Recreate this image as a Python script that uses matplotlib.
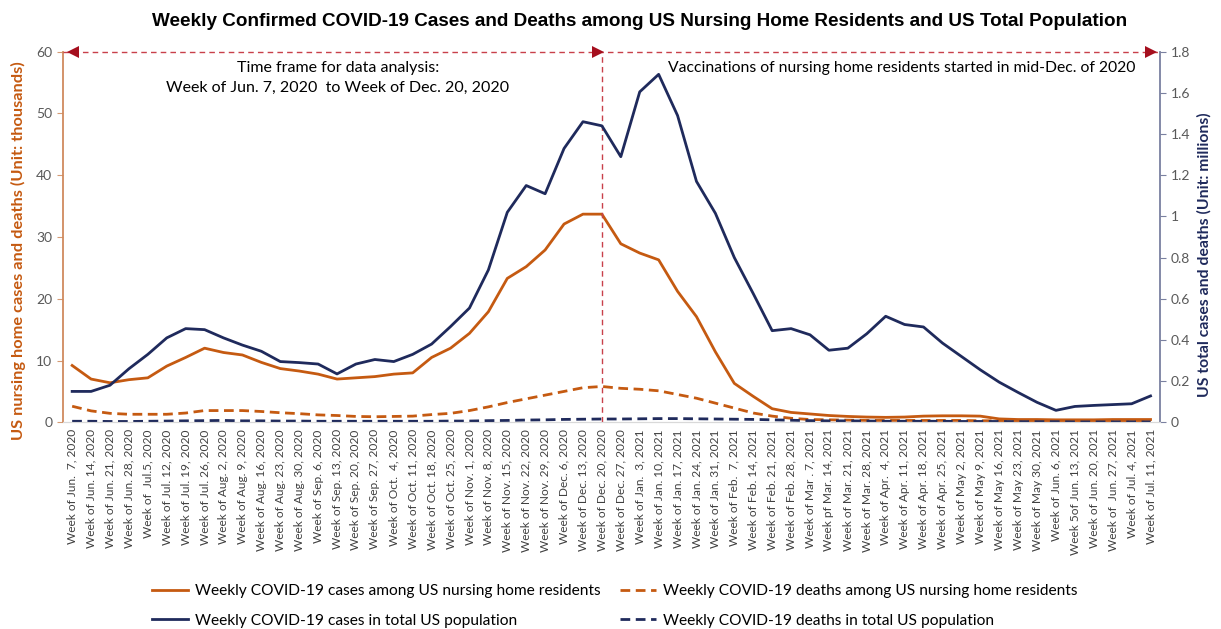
import matplotlib
matplotlib.use('Agg')
import matplotlib.pyplot as plt

weeks = [
    "Week of Jun.  7, 2020", "Week of Jun. 14, 2020", "Week of Jun. 21, 2020", "Week of Jun. 28, 2020",
    "Week of  Jul.5, 2020", "Week of Jul. 12, 2020", "Week of Jul. 19, 2020", "Week of Jul. 26, 2020",
    "Week of Aug. 2, 2020", "Week of Aug. 9, 2020", "Week of Aug. 16, 2020", "Week of Aug. 23, 2020",
    "Week of Aug. 30, 2020", "Week of Sep. 6, 2020", "Week of Sep. 13, 2020", "Week of Sep. 20, 2020",
    "Week of Sep. 27, 2020", "Week of Oct.  4, 2020", "Week of Oct. 11, 2020", "Week of Oct. 18, 2020",
    "Week of Oct. 25, 2020", "Week of Nov. 1, 2020", "Week of Nov. 8, 2020", "Week of Nov. 15, 2020",
    "Week of Nov. 22, 2020", "Week of Nov. 29, 2020", "Week of Dec. 6, 2020", "Week of Dec. 13, 2020",
    "Week of Dec. 20, 2020", "Week of Dec. 27, 2020", "Week of Jan.  3, 2021", "Week of Jan. 10, 2021",
    "Week of Jan. 17, 2021", "Week of Jan. 24, 2021", "Week of Jan. 31, 2021", "Week of Feb.  7, 2021",
    "Week of Feb. 14, 2021", "Week of Feb. 21, 2021", "Week of Feb. 28, 2021", "Week of Mar . 7, 2021",
    "Week pf Mar. 14, 2021", "Week of Mar. 21, 2021", "Week of Mar. 28, 2021", "Week of Apr.  4, 2021",
    "Week of Apr. 11, 2021", "Week of Apr. 18, 2021", "Week of Apr. 25, 2021", "Week of May 2, 2021",
    "Week of May 9, 2021", "Week of May 16, 2021", "Week of May 23, 2021", "Week of May 30, 2021",
    "Week of Jun. 6, 2021", "Week 5of Jun. 13, 2021", "Week of Jun. 20, 2021", "Week of  Jun. 27, 2021",
    "Week of Jul. 4, 2021", "Week of Jul. 11, 2021",
]

# Nursing home residents (thousands)
nh_cases = [9.2, 7.0, 6.4, 6.9, 7.2, 9.1, 10.5, 12.0, 11.3, 10.9, 9.7, 8.7, 8.3, 7.8, 7.0, 7.2,
            7.4, 7.8, 8.0, 10.5, 12.0, 14.4, 17.9, 23.3, 25.2, 27.9, 32.1, 33.7, 33.7, 28.9,
            27.4, 26.3, 21.2, 17.1, 11.4, 6.3, 4.2, 2.2, 1.6, 1.35, 1.1, 0.95, 0.85, 0.8, 0.85,
            1.0, 1.05, 1.05, 1.0, 0.55, 0.45, 0.45, 0.4, 0.4, 0.4, 0.45, 0.45, 0.45]
nh_deaths = [2.6, 1.85, 1.45, 1.3, 1.3, 1.3, 1.5, 1.9, 1.9, 1.9, 1.75, 1.55, 1.4, 1.2, 1.1, 0.95,
             0.9, 0.95, 1.0, 1.25, 1.45, 1.9, 2.5, 3.2, 3.8, 4.4, 5.0, 5.6, 5.8, 5.5,
             5.35, 5.1, 4.5, 3.9, 3.1, 2.3, 1.5, 1.0, 0.65, 0.45, 0.4, 0.35, 0.3, 0.3, 0.3,
             0.3, 0.3, 0.3, 0.25, 0.25, 0.2, 0.2, 0.2, 0.2, 0.2, 0.2, 0.2, 0.2]
# US total population (millions)
us_cases = [0.15, 0.15, 0.18, 0.26, 0.33, 0.41, 0.455, 0.45, 0.41, 0.375, 0.345, 0.295, 0.29, 0.283,
            0.235, 0.283, 0.305, 0.295, 0.33, 0.38, 0.465, 0.555, 0.74, 1.02, 1.15, 1.11, 1.33, 1.46,
            1.44, 1.29, 1.605, 1.69, 1.49, 1.17, 1.015, 0.8, 0.625, 0.445, 0.455, 0.425, 0.35, 0.36,
            0.43, 0.515, 0.475, 0.463, 0.385, 0.32, 0.255, 0.195, 0.145, 0.097, 0.058, 0.077, 0.082,
            0.086, 0.09, 0.128]
us_deaths = [0.005, 0.005, 0.004, 0.004, 0.005, 0.006, 0.007, 0.008, 0.009, 0.007, 0.007, 0.006, 0.006,
             0.005, 0.005, 0.005, 0.005, 0.005, 0.005, 0.005, 0.006, 0.006, 0.008, 0.009, 0.011, 0.012,
             0.014, 0.015, 0.016, 0.016, 0.017, 0.018, 0.018, 0.017, 0.016, 0.015, 0.014, 0.012, 0.010,
             0.008, 0.007, 0.007, 0.006, 0.005, 0.005, 0.005, 0.005, 0.004, 0.004, 0.004, 0.003, 0.003,
             0.003, 0.002, 0.002, 0.002, 0.002, 0.002]

split_week = "Week of Dec. 20, 2020"

ORANGE = '#C55A11'
NAVY = '#1F2A5C'
RED = '#C8404A'
DARKRED = '#A50F1E'
GREY = '#595959'
FONT = 'Lato'

W, H = 1221, 629
fig = plt.figure(figsize=(W / 100, H / 100), dpi=100)

def fx(px):
    return px / W

def fy(py):
    return (H - py) / H

ax = fig.add_axes([fx(62.7), fy(422.3), fx(1160) - fx(62.7), fy(51.7) - fy(422.3)])
ax2 = ax.twinx()

x = list(range(len(weeks)))
lw = 2.0
l1, = ax.plot(x, nh_cases, color=ORANGE, lw=lw, solid_joinstyle='round')
l2, = ax.plot(x, nh_deaths, color=ORANGE, lw=lw, ls=(0, (3.5, 2)))
l3, = ax2.plot(x, us_cases, color=NAVY, lw=lw, solid_joinstyle='round')
l4, = ax2.plot(x, us_deaths, color=NAVY, lw=lw, ls=(0, (3.5, 2)))

ax.set_xlim(-0.5, len(weeks) - 0.5)
ax.set_ylim(0, 60)
ax2.set_ylim(0, 1.8)
ax.set_yticks(range(0, 61, 10))
r_ticks = [0, 0.2, 0.4, 0.6, 0.8, 1.0, 1.2, 1.4, 1.6, 1.8]
ax2.set_yticks(r_ticks)
ax2.set_yticklabels(['%g' % t for t in r_ticks])
ax.set_xticks(x)
ax.set_xticklabels(weeks, rotation=90, fontsize=8.6, color='#404040', family=FONT)
ax.tick_params(axis='x', length=0, pad=5)
ax.tick_params(axis='y', colors=GREY, labelsize=10, length=4, color='#D59A73', direction='out')
ax2.tick_params(axis='y', colors=GREY, labelsize=10, length=4, color='#7A80A0', direction='out')
for lab in ax.get_yticklabels() + ax2.get_yticklabels():
    lab.set_family(FONT)

for a in (ax, ax2):
    a.spines['top'].set_visible(False)
    a.spines['bottom'].set_color('#D9D9D9')
    a.spines['left'].set_visible(False)
    a.spines['right'].set_visible(False)
ax.spines['left'].set_visible(True)
ax.spines['left'].set_color('#D08A5E')
ax.spines['left'].set_linewidth(1.3)
ax2.spines['right'].set_visible(True)
ax2.spines['right'].set_color('#7A80A0')
ax2.spines['right'].set_linewidth(1.3)

# annotation: time frame arrows
si = weeks.index(split_week)
ax.plot([-0.5, len(weeks) - 0.5], [60, 60], color=RED, lw=1.0, ls=(0, (4, 3)), clip_on=False, zorder=5)
ax.plot([si, si], [0, 60], color=RED, lw=1.0, ls=(0, (4, 3)), clip_on=False, zorder=5)
ax.plot([0.05], [60], marker='<', color=DARKRED, ms=9, clip_on=False, zorder=6, mew=0)
ax.plot([si - 0.2], [60], marker='>', color=DARKRED, ms=9, clip_on=False, zorder=6, mew=0)
ax.plot([len(weeks) - 0.95], [60], marker='>', color=DARKRED, ms=9, clip_on=False, zorder=6, mew=0)

fig.text(fx(338), fy(68), "Time frame for data analysis:", ha='center', va='center',
         fontsize=11.5, family=FONT, color='black')
fig.text(fx(338), fy(88), "Week of Jun. 7, 2020  to Week of Dec. 20, 2020", ha='center', va='center',
         fontsize=11.5, family=FONT, color='black')
fig.text(fx(668), fy(68), "Vaccinations of nursing home residents started in mid-Dec. of 2020",
         ha='left', va='center', fontsize=11.3, family=FONT, color='black')

fig.text(fx(640), fy(22),
         "Weekly Confirmed COVID-19 Cases and Deaths among US Nursing Home Residents and US Total Population",
         ha='center', va='center', fontsize=13.6, fontweight='bold', family='Liberation Sans', color='black')

fig.text(fx(18), fy(251), "US nursing home cases and deaths (Unit: thousands)", rotation=90,
         ha='center', va='center', fontsize=11.8, fontweight='bold', family=FONT, color=ORANGE)
fig.text(fx(1204), fy(255), "US total cases and deaths (Unit: millions)", rotation=90,
         ha='center', va='center', fontsize=11.3, fontweight='bold', family=FONT, color=NAVY)

handles = [l1, l3, l2, l4]
labels = ["Weekly COVID-19 cases among US nursing home residents",
          "Weekly COVID-19 cases in total US population",
          "Weekly COVID-19 deaths among US nursing home residents",
          "Weekly COVID-19 deaths in total US population"]
fig.legend(handles, labels, loc='upper left', bbox_to_anchor=(fx(152), fy(584)), ncol=2,
           frameon=False, prop={'family': FONT, 'size': 11.2}, handlelength=2.3, handletextpad=0.45,
           columnspacing=1.25, labelspacing=1.0, borderpad=0, borderaxespad=0)

fig.savefig('out.png', dpi=100)
